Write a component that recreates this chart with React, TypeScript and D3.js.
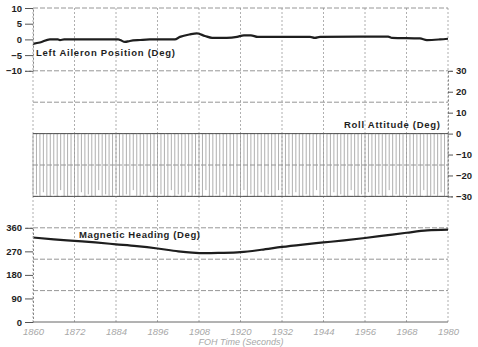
import React, { useEffect, useRef } from "react";
import * as d3 from "d3";

const W = 478;
const H = 347;

const xTicks = [1860, 1872, 1884, 1896, 1908, 1920, 1932, 1944, 1956, 1968, 1980];
const aileronTicks = [10, 5, 0, -5, -10];
const rollTicks = [30, 20, 10, 0, -10, -20, -30];
const headingTicks = [360, 270, 180, 90, 0];

const aileronTimes = [1860, 1862, 1864.9, 1867.2, 1867.8, 1869, 1884.6, 1885.2, 1886.6, 1888, 1891, 1893.8, 1901, 1902.5, 1905.4, 1907.4, 1909.7, 1911.8, 1916, 1919, 1921, 1923, 1925, 1928.5, 1940.1, 1941.5, 1943, 1954.6, 1962.7, 1963.8, 1971.9, 1973.9, 1977.7, 1980];
const aileronValues = [-1.4, -1.0, 0.0, 0.0, -0.2, 0.0, 0.0, -0.2, -0.8, -0.5, -0.2, 0.0, 0.0, 0.8, 1.6, 1.9, 1.1, 0.5, 0.5, 0.8, 1.3, 1.3, 0.8, 0.8, 0.8, 0.5, 0.8, 0.9, 0.9, 0.5, 0.3, -0.2, 0.0, 0.2];

const headingTimes = [1860, 1866, 1872, 1878, 1884, 1890, 1896, 1902, 1906, 1910, 1914, 1920, 1926, 1932, 1938, 1944, 1950, 1956, 1962, 1968, 1974, 1980];
const headingValues = [323, 316, 310, 304, 297, 290, 281, 270, 265, 263, 264, 267, 276, 287, 296, 304, 312, 321, 331, 341, 350, 353];

// lower end of each one-second roll stroke (upper end is 0 deg)
const rollLows = [
  -30, -29, -30, -28, -30, -30, -29, -30, -27, -30, -30, -29, -30, -30, -28, -30, -29, -30, -30, -27,
  -30, -29, -30, -30, -28, -30, -30, -29, -30, -27, -30, -30, -29, -30, -28, -30, -30, -29, -30, -30,
  -27, -30, -29, -30, -30, -28, -30, -29, -30, -30, -27, -30, -30, -29, -30, -28, -30, -30, -29, -30,
  -30, -27, -30, -29, -30, -30, -28, -30, -29, -30, -30, -27, -30, -30, -29, -30, -28, -30, -30, -29,
  -30, -30, -27, -30, -29, -30, -30, -28, -30, -29, -30, -30, -27, -30, -30, -29, -30, -28, -30, -30,
  -29, -30, -30, -27, -30, -29, -30, -30, -28, -30, -29, -30, -30, -27, -30, -30, -29, -30, -28, -30, -30,
];

const labelFont = "'Liberation Sans', Arial, sans-serif";

export default function App() {
  const ref = useRef<SVGSVGElement>(null);

  useEffect(() => {
    const svg = d3.select(ref.current);
    svg.selectAll("*").remove();

    const x = d3.scaleLinear().domain([1860, 1980]).range([33, 448]);
    const gridY = d3.scaleLinear().domain([0, 10]).range([8, 322]);
    const yA = d3.scaleLinear().domain([-10, 10]).range([gridY(2), gridY(0)]);
    const yR = d3.scaleLinear().domain([-30, 30]).range([gridY(6), gridY(2)]);
    const yH = d3.scaleLinear().domain([0, 360]).range([gridY(10), gridY(7)]);

    const g = svg.append("g");

    // vertical grid
    g.selectAll(".vg")
      .data(xTicks)
      .join("line")
      .attr("x1", (d) => x(d))
      .attr("x2", (d) => x(d))
      .attr("y1", gridY(0))
      .attr("y2", gridY(10))
      .attr("stroke", "#9a9a9a")
      .attr("stroke-width", 0.8)
      .attr("stroke-dasharray", "2,2");

    // horizontal grid
    g.selectAll(".hg")
      .data([0, 2, 3, 4, 5, 6, 7, 8, 9])
      .join("line")
      .attr("x1", x(1860))
      .attr("x2", x(1980))
      .attr("y1", (d) => gridY(d))
      .attr("y2", (d) => gridY(d))
      .attr("stroke", "#8a8a8a")
      .attr("stroke-width", 0.9)
      .attr("stroke-dasharray", "5,2");

    // roll strokes
    const rollTimes = rollLows.map((_, i) => 1860 + i);
    g.selectAll(".roll")
      .data(rollTimes)
      .join("line")
      .attr("x1", (d) => x(d))
      .attr("x2", (d) => x(d))
      .attr("y1", yR(0))
      .attr("y2", (_, i) => yR(rollLows[i]))
      .attr("stroke", "#9a9a9a")
      .attr("stroke-width", 0.8);

    // roll band edges
    [0, -30].forEach((v) => {
      g.append("line")
        .attr("x1", x(1860))
        .attr("x2", x(1980))
        .attr("y1", yR(v))
        .attr("y2", yR(v))
        .attr("stroke", "#555")
        .attr("stroke-width", 1);
    });

    // bottom axis line
    g.append("line")
      .attr("x1", x(1860))
      .attr("x2", x(1980))
      .attr("y1", gridY(10))
      .attr("y2", gridY(10))
      .attr("stroke", "#666")
      .attr("stroke-width", 1);

    // aileron line
    const lineA = d3
      .line<number>()
      .x((_, i) => x(aileronTimes[i]))
      .y((d) => yA(d))
      .curve(d3.curveMonotoneX);
    g.append("path")
      .attr("d", lineA(aileronValues))
      .attr("fill", "none")
      .attr("stroke", "#1e1e1e")
      .attr("stroke-width", 2.2);

    // heading line
    const lineH = d3
      .line<number>()
      .x((_, i) => x(headingTimes[i]))
      .y((d) => yH(d))
      .curve(d3.curveMonotoneX);
    g.append("path")
      .attr("d", lineH(headingValues))
      .attr("fill", "none")
      .attr("stroke", "#1e1e1e")
      .attr("stroke-width", 2.2);

    // axes
    const styleAxis = (sel: any, color: string) => {
      sel.select(".domain").attr("stroke", "#888").attr("stroke-dasharray", "2,2");
      sel.selectAll(".tick line").attr("stroke", "#555");
      sel
        .selectAll("text")
        .attr("fill", color)
        .attr("font-family", labelFont)
        .attr("font-weight", "bold")
        .attr("font-size", 9.5);
    };

    const axA = svg
      .append("g")
      .attr("transform", `translate(${x(1860)},0)`)
      .call(d3.axisLeft(yA).tickValues(aileronTicks).tickSize(8).tickPadding(3).tickFormat(d3.format("d")));
    styleAxis(axA, "#1e1e1e");

    const axH = svg
      .append("g")
      .attr("transform", `translate(${x(1860)},0)`)
      .call(d3.axisLeft(yH).tickValues(headingTicks).tickSize(8).tickPadding(3).tickFormat(d3.format("d")));
    styleAxis(axH, "#1e1e1e");

    const axR = svg
      .append("g")
      .attr("transform", `translate(${x(1980)},0)`)
      .call(d3.axisRight(yR).tickValues(rollTicks).tickSize(5).tickPadding(3).tickFormat(d3.format("d")));
    styleAxis(axR, "#1e1e1e");

    const axX = svg
      .append("g")
      .attr("transform", `translate(0,${gridY(10)})`)
      .call(d3.axisBottom(x).tickValues(xTicks).tickSize(0).tickPadding(6).tickFormat(d3.format("d")));
    axX.select(".domain").remove();
    axX
      .selectAll("text")
      .attr("fill", "#a8a8a8")
      .attr("font-family", labelFont)
      .attr("font-style", "italic")
      .attr("font-size", 9.5);

    // panel labels
    const label = (t: string, lx: number, ly: number, len: number) =>
      svg
        .append("text")
        .attr("x", lx)
        .attr("y", ly)
        .attr("font-family", labelFont)
        .attr("font-weight", "bold")
        .attr("font-size", 9.5)
        .attr("fill", "#1e1e1e")
        .attr("textLength", len)
        .attr("lengthAdjust", "spacing")
        .text(t);

    label("Left Aileron Position (Deg)", 36, 56, 139);
    label("Roll Attitude (Deg)", 344, 128, 96);
    label("Magnetic Heading (Deg)", 79, 238, 121);

    svg
      .append("text")
      .attr("x", 241)
      .attr("y", 345)
      .attr("text-anchor", "middle")
      .attr("font-family", labelFont)
      .attr("font-style", "italic")
      .attr("font-size", 9)
      .attr("fill", "#a8a8a8")
      .text("FOH Time (Seconds)");
  }, []);

  return (
    <svg
      ref={ref}
      width={W}
      height={H}
      style={{ position: "absolute", left: 0, top: 0, background: "#fff" }}
    />
  );
}
